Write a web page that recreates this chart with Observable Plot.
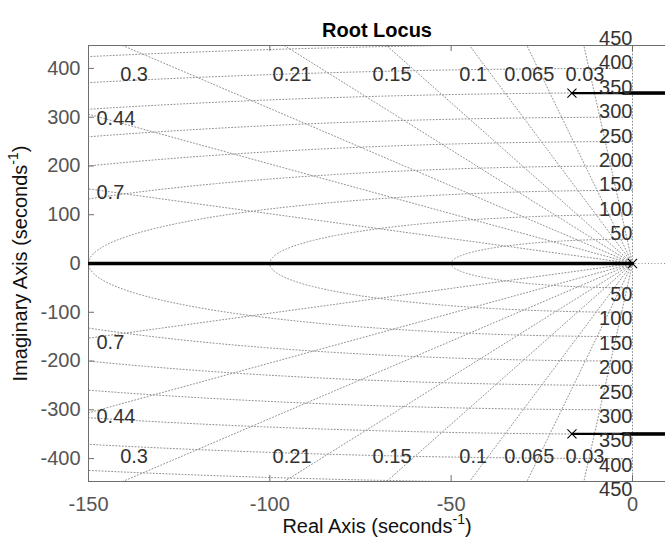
<!DOCTYPE html>
<html>
<head>
<meta charset="utf-8">
<script src="https://cdn.jsdelivr.net/npm/d3@7"></script>
<script src="https://cdn.jsdelivr.net/npm/@observablehq/plot@0.6"></script>
<style>
  html, body { margin: 0; padding: 0; background: #fff; }
</style>
</head>
<body>
<div id="chart"></div>
<script>
// ---- data ----
const chartTitle = "Root Locus";
const xLabel = "Real Axis (seconds⁻¹)";
const yLabel = "Imaginary Axis (seconds⁻¹)";
const xLimits = [-150, 9.1];
const yLimits = [-447, 447];
const xTicks = [-150, -100, -50, 0];
const yTicks = [-400, -300, -200, -100, 0, 100, 200, 300, 400];

// damping-ratio grid lines (sgrid) and their labels
const dampingTopLabels = [0.3, 0.21, 0.15, 0.1, 0.065, 0.03];
const dampingSideLabels = [0.7, 0.44];
// natural-frequency grid circles and labels
const naturalFreqs = [50, 100, 150, 200, 250, 300, 350, 400, 450];

// poles (x markers)
const poleRe = [0, -16.7, -16.7];
const poleIm = [0, 349.5, -349.5];

// root locus branches: [branch id, re, im]
const branchId = ["real", "real", "up", "up", "dn", "dn", "upT", "upT", "dnT", "dnT"];
const branchRe = [-400, 0, -16.7, 40, -16.7, 40, -2.6, 40, -2.6, 40];
const branchIm = [0, 0, 349.5, 349.5, -349.5, -349.5, 349.5, 349.5, -349.5, -349.5];

// ---- derived geometry ----
const allDamping = [...dampingTopLabels, ...dampingSideLabels];
const R = 2000;
const rays = [];
for (const z of allDamping) {
  const s = Math.sqrt(1 - z * z);
  for (const sign of [1, -1]) {
    rays.push({k: `${z}${sign}`, re: 0, im: 0});
    rays.push({k: `${z}${sign}`, re: -R * z, im: sign * R * s});
  }
}
// zeta = 0 (imaginary axis)
rays.push({k: "z0", re: 0, im: -R}, {k: "z0", re: 0, im: R});

const circles = [];
for (const w of naturalFreqs) {
  for (let a = 90; a <= 270; a += 0.5) {
    const t = a * Math.PI / 180;
    circles.push({w, re: w * Math.cos(t), im: w * Math.sin(t)});
  }
}

const yTop = yLimits[1];
const topLabels = dampingTopLabels.map(z => ({
  z, label: String(z), re: -(yTop - 10) * z / Math.sqrt(1 - z * z)
}));
const sideLabels = dampingSideLabels.flatMap(z => {
  const im = 150 * Math.sqrt(1 - z * z) / z;
  return [{label: String(z), im}, {label: String(z), im: -im}];
});

const wnTop = naturalFreqs.map(w => ({label: String(w), re: 0, im: w}));
const wnBot = naturalFreqs.map(w => ({label: String(w), re: 0, im: -w}));

const poles = poleRe.map((re, i) => ({re, im: poleIm[i]}));
const branches = branchId.map((id, i) => ({id, re: branchRe[i], im: branchIm[i]}));

const FONT = "'Liberation Sans', Arial, Helvetica, sans-serif";
const W = 665, H = 545, ML = 88, MR = 0, MT = 45, MB = 64;
const FW = W - ML - MR, FH = H - MT - MB;

const gridStyle = {stroke: "#8f8f8f", strokeWidth: 1, strokeDasharray: "1,2.2", clip: true};

const svg = Plot.plot({
  width: W, height: H,
  marginLeft: ML, marginRight: MR, marginTop: MT, marginBottom: MB,
  style: {fontFamily: FONT, fontSize: "20px", color: "#555", background: "#fff", overflow: "visible"},
  x: {domain: xLimits, ticks: xTicks, tickSize: 0, tickPadding: 15, tickFormat: d => String(d), label: null},
  y: {domain: yLimits, ticks: yTicks, tickSize: 0, tickPadding: 8, tickFormat: d => String(d), label: null},
  marks: [
    // grid: damping rays, natural-frequency circles, real axis
    Plot.line(rays, {x: "re", y: "im", z: "k", ...gridStyle}),
    Plot.line(circles, {x: "re", y: "im", z: "w", ...gridStyle}),
    Plot.ruleY([0], {...gridStyle}),
    // box
    Plot.ruleY([yLimits[0], yLimits[1]], {stroke: "#6e6e6e", strokeWidth: 1}),
    Plot.ruleX([xLimits[0]], {stroke: "#6e6e6e", strokeWidth: 1}),
    // inward ticks
    Plot.tickX(xTicks, {x: d => d, insetTop: FH - 6, stroke: "#6e6e6e"}),
    Plot.tickX(xTicks, {x: d => d, insetBottom: FH - 6, stroke: "#6e6e6e"}),
    Plot.tickY(yTicks, {y: d => d, insetRight: FW - 6, stroke: "#6e6e6e"}),
    // root locus
    Plot.line(branches.filter(d => d.id === "real"), {x: "re", y: "im", stroke: "#000", strokeWidth: 3.6, clip: true}),
    Plot.line(branches.filter(d => d.id === "up" || d.id === "dn"), {x: "re", y: "im", z: "id", stroke: "#000", strokeWidth: 2.2, clip: true}),
    Plot.line(branches.filter(d => d.id === "upT" || d.id === "dnT"), {x: "re", y: "im", z: "id", stroke: "#000", strokeWidth: 3.4, clip: true}),
    Plot.dot(poles, {x: "re", y: "im", symbol: "times", r: 4.2, stroke: "#000", strokeWidth: 1.1}),
    // damping labels
    Plot.text(topLabels, {x: "re", text: "label", frameAnchor: "top", dy: 21, fontSize: 20, fill: "#333"}),
    Plot.text(topLabels, {x: "re", text: "label", frameAnchor: "bottom", dy: -19, fontSize: 20, fill: "#333"}),
    Plot.text(sideLabels, {y: "im", text: "label", frameAnchor: "left", textAnchor: "start", dx: 8, dy: 4, fontSize: 20, fill: "#333"}),
    // natural frequency labels
    Plot.text(wnTop, {x: "re", y: "im", text: "label", textAnchor: "end", lineAnchor: "bottom", dy: 1, fontSize: 20, fill: "#333"}),
    Plot.text(wnBot, {x: "re", y: "im", text: "label", textAnchor: "end", lineAnchor: "top", dy: -1, fontSize: 20, fill: "#333"}),
    // title and axis labels
    Plot.text([chartTitle], {frameAnchor: "top", textAnchor: "middle", dy: -23, fontSize: 20, fontWeight: "bold", fill: "#000"}),
    Plot.text([xLabel], {frameAnchor: "bottom", textAnchor: "middle", dy: 51, fontSize: 20, fill: "#111"}),
    Plot.text([yLabel], {frameAnchor: "middle", textAnchor: "middle", x: () => xLimits[0], dx: -68, rotate: -90, fontSize: 20, fill: "#111"})
  ]
});

document.getElementById("chart").appendChild(svg);

// render "⁻¹" as a proper superscript, and re-centre the axis titles on their anchor
d3.select(svg).selectAll("text").each(function () {
  const t = this.textContent;
  const i = t.indexOf("⁻¹");
  if (i < 0 || this.querySelector("tspan")) return;
  const intended = parseFloat(this.getAttribute("x")) || 0;
  const sel = d3.select(this);
  sel.attr("text-anchor", "start").attr("x", intended).text(null);
  sel.append("tspan").text(t.slice(0, i));
  sel.append("tspan").attr("dy", -9).attr("font-size", 14).text("-1");
  sel.append("tspan").attr("dy", 9).text(t.slice(i + 2));
  const b = this.getBBox();
  const shift = intended - (b.x + b.width / 2);
  sel.attr("x", intended + shift);
});
</script>
</body>
</html>
